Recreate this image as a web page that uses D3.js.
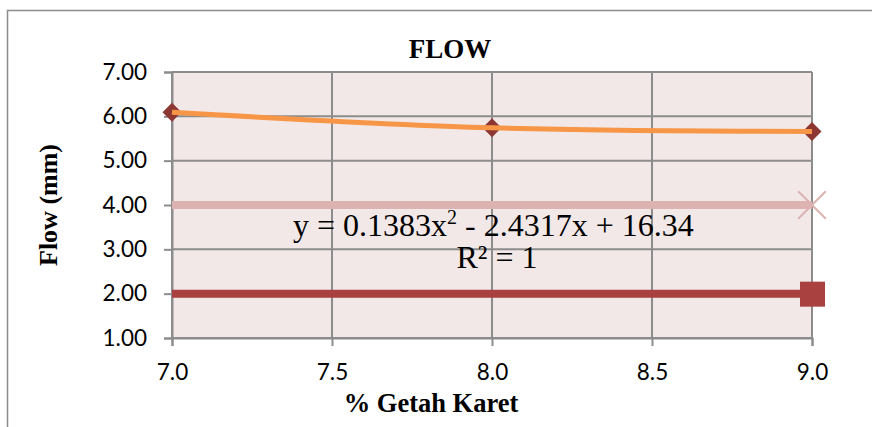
<!DOCTYPE html>
<html lang="en">
<head>
<meta charset="utf-8">
<title>FLOW</title>
<script src="https://d3js.org/d3.v7.min.js"></script>
<style>
  body { margin: 0; background: #fff; }
</style>
</head>
<body>
<div id="chart"></div>
<script>
  // data
  var xValues = [7.0, 8.0, 9.0];
  var flow = [6.09, 5.74, 5.66];
  var limitHigh = [4.00, 4.00, 4.00];
  var limitLow = [2.00, 2.00, 2.00];
  var yTicks = [1, 2, 3, 4, 5, 6, 7];
  var xTicks = [7.0, 7.5, 8.0, 8.5, 9.0];
  var equation = "y = 0.1383x";
  var equationRest = " - 2.4317x + 16.34";
  var rSquared = "R² = 1";

  var w = 872, h = 427;
  var plotLeft = 172, plotRight = 812, plotTop = 72, plotBottom = 338;

  var svg = d3.select("#chart").append("svg")
    .attr("width", w)
    .attr("height", h);

  // outer chart border
  svg.append("path")
    .attr("d", "M7.5," + h + " V10.5 H" + w)
    .attr("fill", "none")
    .attr("stroke", "#8c8c8c")
    .attr("stroke-width", 1.5);

  var x = d3.scaleLinear().domain([7, 9]).range([plotLeft, plotRight]);
  var y = d3.scaleLinear().domain([1, 7]).range([plotBottom, plotTop]);

  // plot background
  svg.append("rect")
    .attr("x", plotLeft).attr("y", plotTop)
    .attr("width", plotRight - plotLeft).attr("height", plotBottom - plotTop)
    .attr("fill", "#f2e8e8");

  // gridlines
  svg.append("g").selectAll("line").data(yTicks).enter().append("line")
    .attr("x1", plotLeft).attr("x2", plotRight)
    .attr("y1", d => y(d)).attr("y2", d => y(d))
    .attr("stroke", "#8c8c8c").attr("stroke-width", 2);
  svg.append("g").selectAll("line").data(xTicks).enter().append("line")
    .attr("x1", d => x(d)).attr("x2", d => x(d))
    .attr("y1", plotTop).attr("y2", plotBottom)
    .attr("stroke", "#8c8c8c").attr("stroke-width", 2);

  // axes
  var yAxis = d3.axisLeft(y).tickValues(yTicks).tickFormat(d3.format(".2f")).tickSize(8).tickPadding(17);
  var xAxis = d3.axisBottom(x).tickValues(xTicks).tickFormat(d3.format(".1f")).tickSize(8).tickPadding(18);

  var gy = svg.append("g").attr("transform", "translate(" + plotLeft + ",0)").call(yAxis);
  var gx = svg.append("g").attr("transform", "translate(0," + plotBottom + ")").call(xAxis);
  [gy, gx].forEach(function (g) {
    g.select(".domain").attr("stroke", "#8c8c8c").attr("stroke-width", 2);
    g.selectAll(".tick line").attr("stroke", "#8c8c8c").attr("stroke-width", 2);
    g.selectAll("text")
      .attr("fill", "#000")
      .style("font-family", "Lato, 'Open Sans', sans-serif")
      .style("font-size", "22.5px");
  });

  // series lines
  var line = d3.line().x(d => x(d[0])).y(d => y(d[1]));

  svg.append("path")
    .datum(d3.zip(xValues, limitLow))
    .attr("d", line)
    .attr("fill", "none")
    .attr("stroke", "#a8413f")
    .attr("stroke-width", 8);

  svg.append("path")
    .datum(d3.zip(xValues, limitHigh))
    .attr("d", line)
    .attr("fill", "none")
    .attr("stroke", "#ddb3b2")
    .attr("stroke-width", 8);

  // markers at the end of limit lines
  var last = xValues.length - 1;
  svg.append("rect")
    .attr("x", x(xValues[last]) - 12).attr("y", y(limitLow[last]) - 12)
    .attr("width", 25).attr("height", 25)
    .attr("fill", "#a8413f");

  svg.append("path")
    .attr("d", d3.symbol().type(d3.symbolX).size(500))
    .attr("transform", "translate(" + x(xValues[last]) + "," + y(limitHigh[last]) + ")")
    .attr("fill", "none")
    .attr("stroke", "#ddb3b2")
    .attr("stroke-width", 2);

  // flow diamonds
  svg.append("g").selectAll("path").data(d3.zip(xValues, flow)).enter().append("path")
    .attr("d", d3.symbol().type(d3.symbolDiamond2).size(230))
    .attr("transform", d => "translate(" + x(d[0]) + "," + y(d[1]) + ")")
    .attr("fill", "#8d3733");

  // polynomial trendline (through the points)
  svg.append("path")
    .datum(d3.zip(xValues, flow))
    .attr("d", d3.line().x(d => x(d[0])).y(d => y(d[1])).curve(d3.curveNatural))
    .attr("fill", "none")
    .attr("stroke", "#f79646")
    .attr("stroke-width", 5);

  // trendline equation
  var serif = "'Liberation Serif', 'Times New Roman', serif";
  var eq = svg.append("text")
    .attr("x", 293).attr("y", 236)
    .style("font-family", serif)
    .style("font-size", "32px");
  eq.append("tspan").text(equation);
  eq.append("tspan").attr("dy", -12).style("font-size", "20px").text("2");
  eq.append("tspan").attr("dy", 12).text(equationRest);

  svg.append("text")
    .attr("x", 497).attr("y", 268)
    .attr("text-anchor", "middle")
    .style("font-family", serif)
    .style("font-size", "32px")
    .text(rSquared);

  // titles
  svg.append("text")
    .attr("x", 450).attr("y", 58)
    .attr("text-anchor", "middle")
    .style("font-family", serif)
    .style("font-weight", "bold")
    .style("font-size", "27px")
    .text("FLOW");

  svg.append("text")
    .attr("x", 431).attr("y", 412)
    .attr("text-anchor", "middle")
    .style("font-family", serif)
    .style("font-weight", "bold")
    .style("font-size", "26.5px")
    .text("% Getah Karet");

  svg.append("text")
    .attr("transform", "translate(57," + ((plotTop + plotBottom) / 2) + ") rotate(-90)")
    .attr("text-anchor", "middle")
    .style("font-family", serif)
    .style("font-weight", "bold")
    .style("font-size", "26px")
    .text("Flow (mm)");
</script>
</body>
</html>
